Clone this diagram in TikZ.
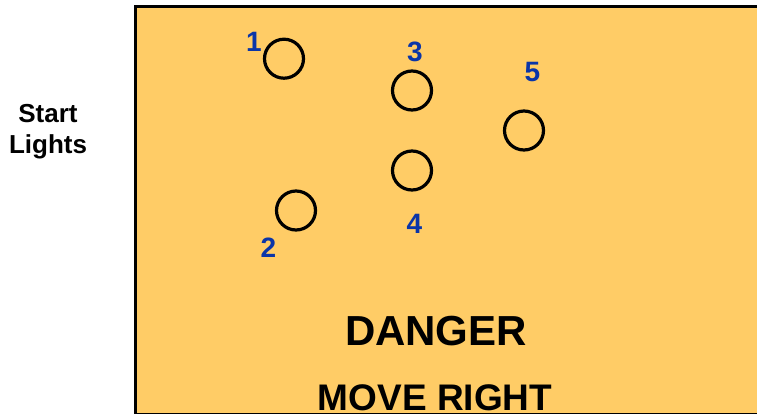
\documentclass[tikz,border=0pt]{standalone}
\usepackage{fontspec}
\setmainfont{Liberation Sans}
\usepackage{tikz}
\usetikzlibrary{positioning}
\definecolor{ink}{HTML}{000000}
\definecolor{signbg}{HTML}{FFCC66}
\definecolor{numblue}{HTML}{0A35A8}
\tikzset{
  lamp/.style={circle, draw=ink, line width=3.2pt, minimum size=39pt, inner sep=0pt},
  num/.style={font=\fontsize{28}{30}\selectfont\bfseries, text=numblue, inner sep=0pt},
  side/.style={font=\fontsize{26}{31}\selectfont\bfseries, align=center, text=ink, inner sep=0pt},
  big/.style={font=\fontsize{42}{48}\selectfont\bfseries, text=ink, inner sep=0pt, anchor=base},
  mid/.style={font=\fontsize{37}{44}\selectfont\bfseries, text=ink, inner sep=0pt, anchor=base},
}

\begin{document}
\begin{tikzpicture}[x=1pt, y=-1pt]
    \useasboundingbox (0,0) rectangle (757,413);
    \begin{scope}
      \clip (0,0) rectangle (757,413);
      \draw[fill=signbg, draw=ink, line width=3.5pt] (135.5,6.5) rectangle (790,414.6);
    \end{scope}
    \node[side] (start) at (48,132) {Start\\Lights};
    \node[lamp] (l1) at (284,58.7) {};
    \node[lamp] (l2) at (296,210.5) {};
    \node[lamp] (l3) at (412,90.5) {};
    \node[lamp] (l4) at (412,170.5) {};
    \node[lamp] (l5) at (524,130.5) {};
    \node[num] (n1) at (254,42) {1};
    \node[num] (n2) at (268.5,248) {2};
    \node[num] (n3) at (415,52) {3};
    \node[num] (n4) at (414.5,224) {4};
    \node[num] (n5) at (532.5,72) {5};
    \node[big] (danger) at (436,345) {DANGER};
    \node[mid] (move) at (435,410.5) {MOVE RIGHT};
  \end{tikzpicture}
\end{document}
